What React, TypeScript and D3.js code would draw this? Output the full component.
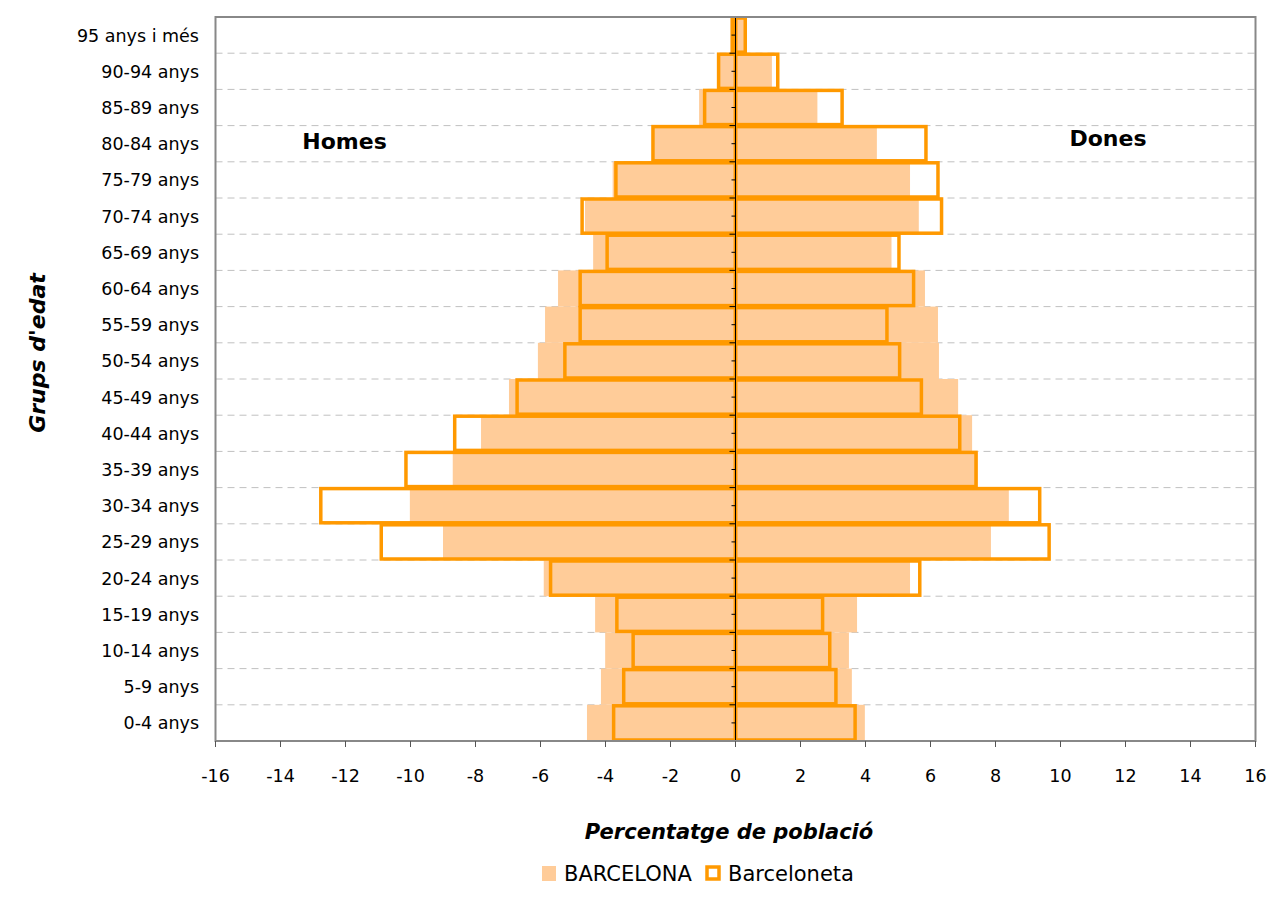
import React from "react";
import * as d3 from "d3";

const categories = ["95 anys i més","90-94 anys","85-89 anys","80-84 anys","75-79 anys","70-74 anys","65-69 anys","60-64 anys","55-59 anys","50-54 anys","45-49 anys","40-44 anys","35-39 anys","30-34 anys","25-29 anys","20-24 anys","15-19 anys","10-14 anys","5-9 anys","0-4 anys"];
const bcnMen = [-0.15,-0.5,-1.12,-2.54,-3.78,-4.63,-4.38,-5.46,-5.86,-6.08,-6.97,-7.83,-8.7,-10.02,-9.0,-5.9,-4.32,-4.01,-4.14,-4.57];
const bcnWomen = [0.35,1.12,2.52,4.35,5.37,5.64,4.8,5.83,6.23,6.26,6.85,7.28,7.46,8.41,7.86,5.37,3.74,3.49,3.58,3.98];
const bltMen = [-0.1,-0.52,-0.95,-2.54,-3.68,-4.72,-3.95,-4.78,-4.78,-5.25,-6.72,-8.64,-10.14,-12.76,-10.9,-5.69,-3.65,-3.15,-3.44,-3.75];
const bltWomen = [0.3,1.3,3.28,5.86,6.23,6.34,5.03,5.48,4.66,5.05,5.72,6.9,7.4,9.36,9.65,5.67,2.68,2.9,3.09,3.68];
const xTicks = [-16,-14,-12,-10,-8,-6,-4,-2,0,2,4,6,8,10,12,14,16];

const FILL = "#FFCC99";
const LINE = "#FF9900";
const FONT = "'DejaVu Sans', Verdana, sans-serif";

export default function App() {
  const W = 1272, H = 911;
  const left = 215.5, right = 1255.5, top = 17, bottom = 741;
  const x = d3.scaleLinear().domain([-16, 16]).range([left, right]);
  const y = d3.scaleBand<string>().domain(categories).range([top, bottom]).padding(0);
  const bw = y.bandwidth();
  const x0 = x(0);

  return (
    <svg width={W} height={H} style={{ position: "absolute", left: 0, top: 0, background: "#fff" }}>
      <rect x={0} y={0} width={W} height={H} fill="#fff" />
      {/* gridlines */}
      {categories.slice(1).map((c) => (
        <line key={"g" + c} x1={left} x2={right} y1={y(c)!} y2={y(c)!} stroke="#C0C0C0" strokeWidth={1} strokeDasharray="7,5" />
      ))}
      {/* Barcelona fill */}
      {categories.map((c, i) => (
        <g key={"b" + c}>
          <rect x={x(bcnMen[i])} y={y(c)!} width={x0 - x(bcnMen[i])} height={bw} fill={FILL} />
          <rect x={x0} y={y(c)!} width={x(bcnWomen[i]) - x0} height={bw} fill={FILL} />
        </g>
      ))}
      {/* Barceloneta outlines */}
      {categories.map((c, i) => (
        <g key={"o" + c}>
          <rect x={x(bltMen[i])} y={y(c)! + 1} width={x0 - x(bltMen[i])} height={bw - 2} fill="none" stroke={LINE} strokeWidth={3.5} />
          <rect x={x0} y={y(c)! + 1} width={x(bltWomen[i]) - x0} height={bw - 2} fill="none" stroke={LINE} strokeWidth={3.5} />
        </g>
      ))}
      {/* central axis */}
      <line x1={x0} x2={x0} y1={top} y2={bottom} stroke="#000" strokeWidth={1} />
      {categories.map((c) => (
        <g key={"t" + c}>
          <line x1={x0 - 6} x2={x0} y1={y(c)!} y2={y(c)!} stroke="#000" strokeWidth={1} />
          <line x1={x0 - 4} x2={x0} y1={y(c)! + bw / 2} y2={y(c)! + bw / 2} stroke="#000" strokeWidth={1} />
        </g>
      ))}
      {/* plot border */}
      <rect x={left} y={top} width={right - left} height={bottom - top} fill="none" stroke="#888" strokeWidth={2} />
      {/* x ticks and labels */}
      {xTicks.map((t) => (
        <g key={"x" + t}>
          <line x1={x(t)} x2={x(t)} y1={bottom} y2={bottom + 6} stroke="#555" strokeWidth={1} />
          <text x={x(t)} y={782} textAnchor="middle" fontFamily={FONT} fontSize={17.5} fill="#000">{t}</text>
        </g>
      ))}
      {/* category labels */}
      {categories.map((c) => (
        <text key={"l" + c} x={199} y={y(c)! + bw / 2 + 6.5} textAnchor="end" fontFamily={FONT} fontSize={17.5} fill="#000">{c}</text>
      ))}
      <text x={344.5} y={149} textAnchor="middle" fontFamily={FONT} fontWeight="bold" fontSize={22} fill="#000">Homes</text>
      <text x={1108} y={146} textAnchor="middle" fontFamily={FONT} fontWeight="bold" fontSize={22} fill="#000">Dones</text>
      <text transform="translate(45,353) rotate(-90)" textAnchor="middle" fontFamily={FONT} fontWeight="bold" fontStyle="italic" fontSize={22} fill="#000">Grups d'edat</text>
      <text x={729} y={839} textAnchor="middle" fontFamily={FONT} fontWeight="bold" fontStyle="italic" fontSize={21} fill="#000">Percentatge de població</text>
      {/* legend */}
      <rect x={542} y={866} width={14} height={15} fill={FILL} />
      <text x={564} y={881} fontFamily={FONT} fontSize={21} fill="#000">BARCELONA</text>
      <rect x={707} y={867} width={12} height={12} fill="none" stroke={LINE} strokeWidth={3.5} />
      <text x={728} y={881} fontFamily={FONT} fontSize={21} fill="#000">Barceloneta</text>
    </svg>
  );
}
